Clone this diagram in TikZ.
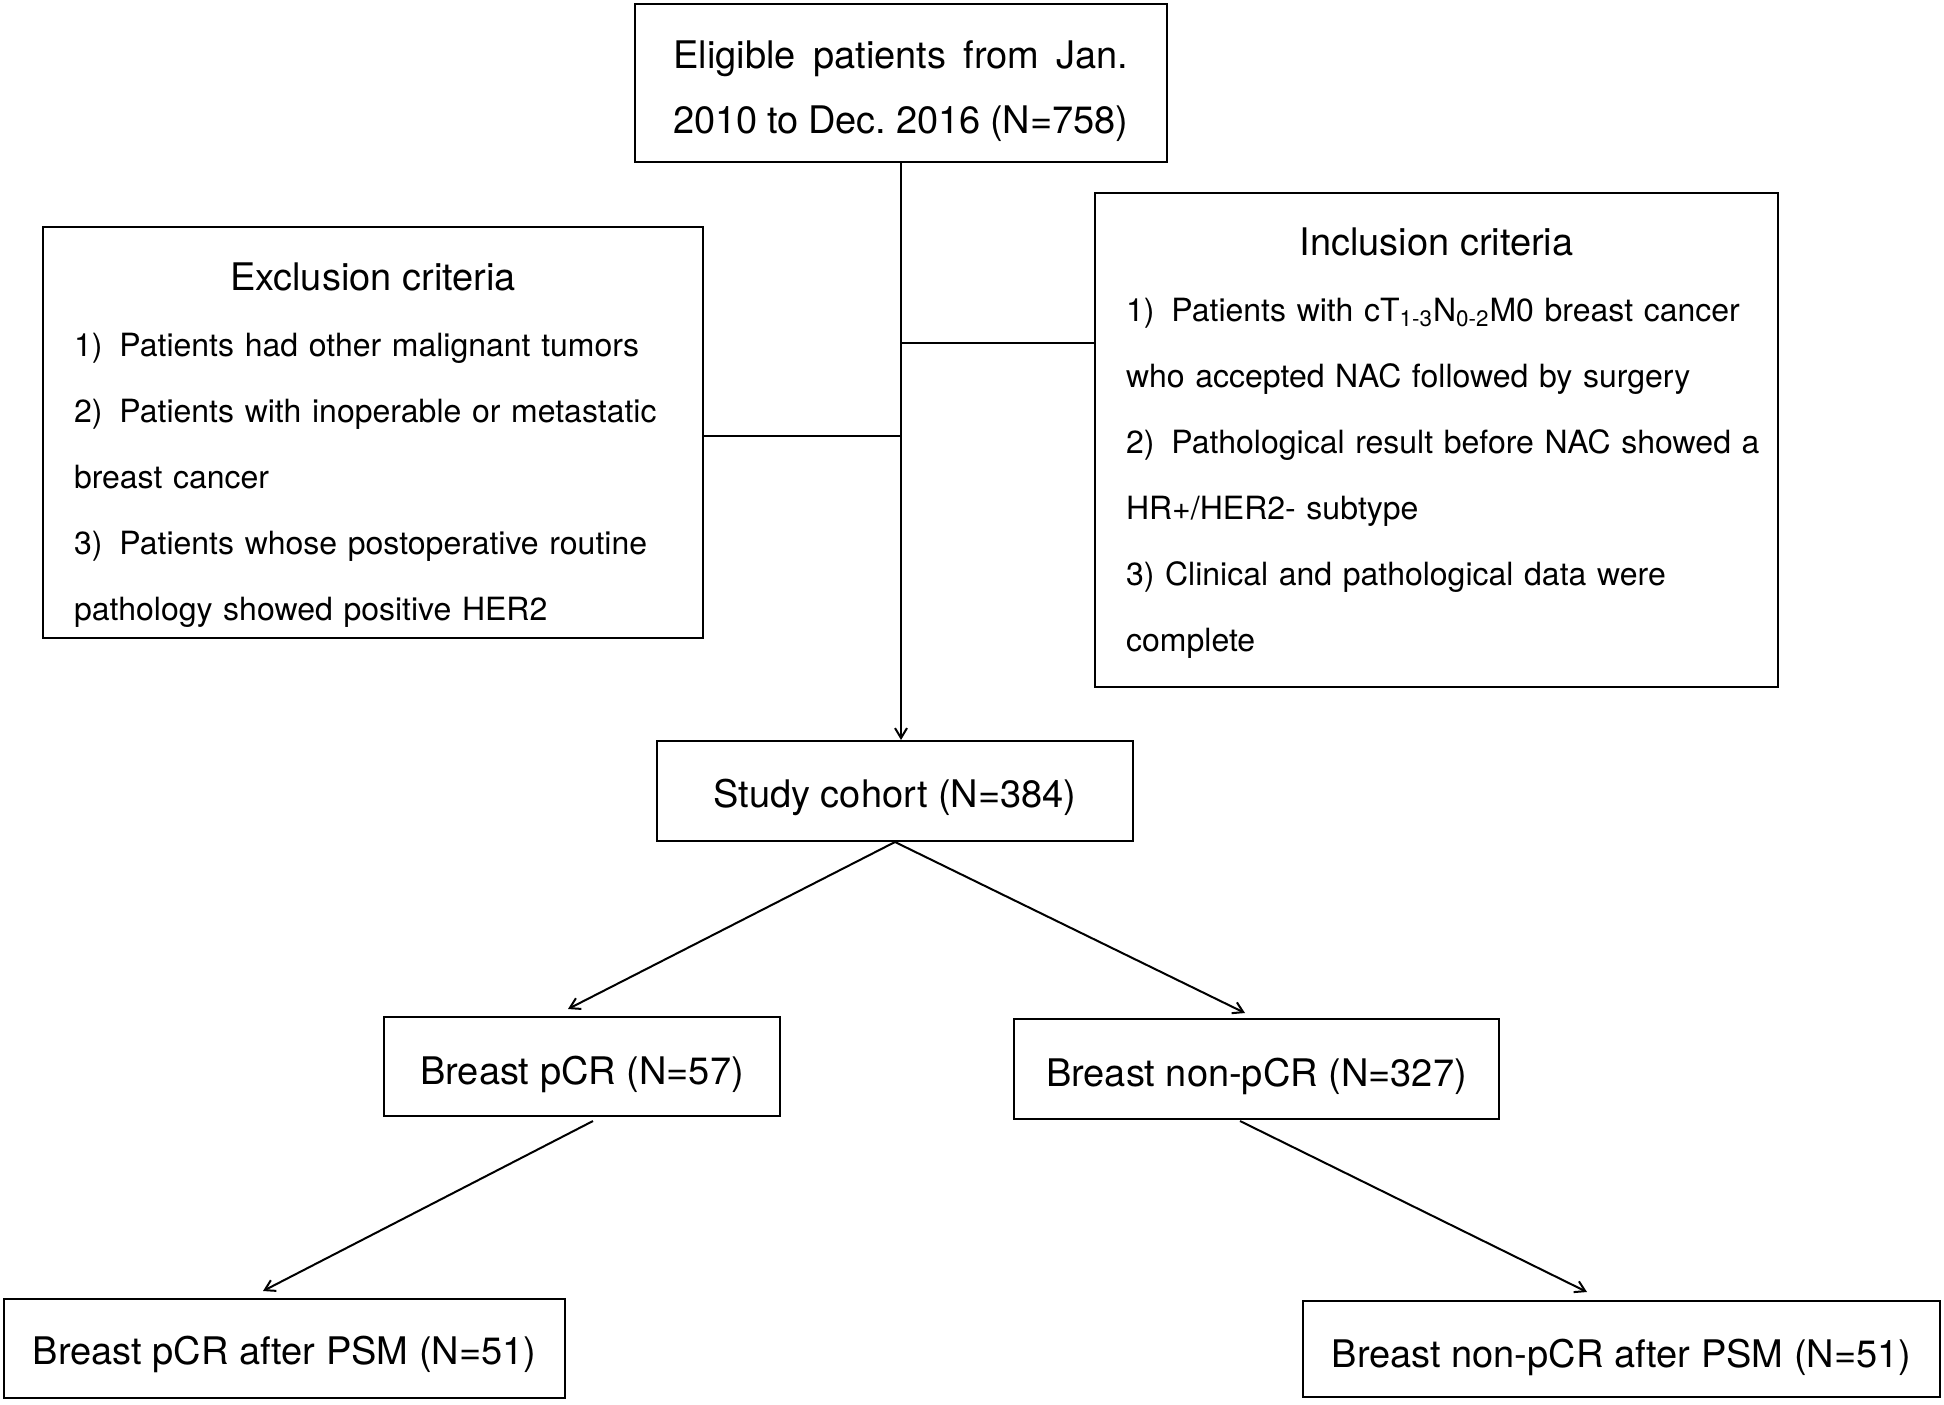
\documentclass[tikz,border=0pt]{standalone}
\usepackage{fontspec}
\setmainfont{TeX Gyre Heros}
\usetikzlibrary{arrows.meta}
\frenchspacing
\newcommand{\itemgap}{\hspace{8.5pt}}
\begin{document}
\begin{tikzpicture}[x=0.5pt,y=-0.5pt,
  every node/.style={font=\fontsize{19pt}{32.5pt}\selectfont},
  box/.style={draw, line width=1pt, inner sep=0pt},
  lowered/.style={text height=#1, text depth=0pt},
  conn/.style={line width=1pt},
  arr/.style={conn, -{Straight Barb[length=5pt,width=6pt]}},
  crit/.style={box, align=left, inner xsep=15.5pt, font=\fontsize{16pt}{33pt}\selectfont}]
\useasboundingbox (0,0) rectangle (1944,1404);
% boxes
\node[box, minimum width=266pt, minimum height=79pt, align=center] (top) at (901,83)
  {\rule{0pt}{22.5pt}\makebox[227.5pt][s]{Eligible patients from Jan.}\\\makebox[227.5pt][s]{2010 to Dec. 2016 (N=758)}};
\node[crit, text width=299pt, minimum height=205.5pt] (excl) at (373,432.5)
  {\rule{0pt}{26pt}\makebox[\linewidth][c]{\fontsize{19pt}{33pt}\selectfont Exclusion criteria}\\
   \mbox{1)\itemgap Patients had other malignant tumors}\\
   \mbox{2)\itemgap Patients with inoperable or metastatic}\\
   \mbox{breast cancer}\\
   \mbox{3)\itemgap Patients whose postoperative routine}\\
   \mbox{pathology showed positive HER2}};
\node[crit, text width=310.5pt, minimum height=247pt] (incl) at (1436.5,440)
  {\rule{0pt}{17pt}\makebox[\linewidth][c]{\fontsize{19pt}{33pt}\selectfont Inclusion criteria}\\
   \mbox{1)\itemgap Patients with cT\textsubscript{1-3}N\textsubscript{0-2}M0 breast cancer}\\
   \mbox{who accepted NAC followed by surgery}\\
   \mbox{2)\itemgap Pathological result before NAC showed a}\\
   \mbox{HR+/HER2- subtype}\\
   \mbox{3) Clinical and pathological data were}\\
   \mbox{complete}};
\node[box, lowered=16.3pt, minimum width=238pt, minimum height=50pt] (study) at (895,791) {Study cohort (N=384)};
\node[box, lowered=18.3pt, minimum width=198pt, minimum height=49.5pt] (pcr) at (582,1066.5) {Breast pCR (N=57)};
\node[box, lowered=17.5pt, minimum width=242.5pt, minimum height=50pt] (npcr) at (1256.5,1069) {Breast non-pCR (N=327)};
\node[box, lowered=15.9pt, minimum width=280.5pt, minimum height=49.5pt] (pcr2) at (284.5,1348.5) {Breast pCR after PSM (N=51)};
\node[box, lowered=18.7pt, minimum width=318.5pt, minimum height=48pt] (npcr2) at (1621.5,1349) {Breast non-pCR after PSM (N=51)};
% connectors
\coordinate (jin) at (901,343);
\coordinate (jex) at (901,436);
\draw[arr] (top.south) -- (top.south |- study.north);
\draw[conn] (jex -| excl.east) -- (jex);
\draw[conn] (jin) -- (jin -| incl.west);
\draw[arr] (study.south) -- ([shift={(-14,-7)}]pcr.north);
\draw[arr] (study.south) -- ([shift={(-11.5,-5)}]npcr.north);
\draw[arr] ([shift={(11,4)}]pcr.south) -- ([shift={(-21.5,-7)}]pcr2.north);
\draw[arr] ([shift={(-16.5,1)}]npcr.south) -- ([shift={(-34.5,-8)}]npcr2.north);
\end{tikzpicture}
\end{document}
